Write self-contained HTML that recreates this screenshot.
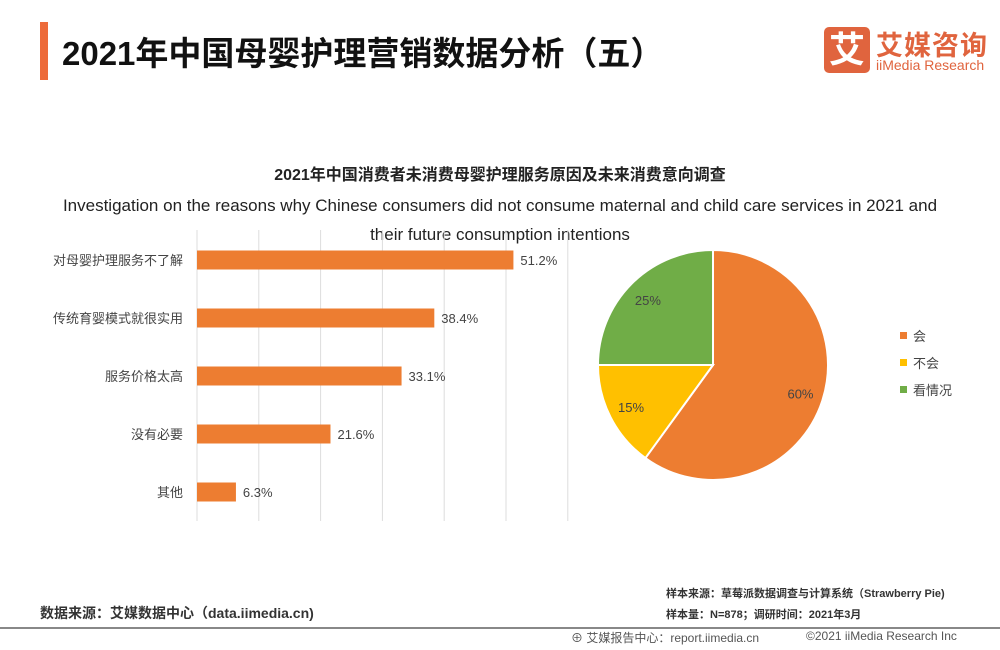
<!DOCTYPE html>
<html><head><meta charset="utf-8">
<style>
body{margin:0;background:#fff;}
#root{position:relative;width:1000px;height:650px;overflow:hidden;font-family:"Liberation Sans","Noto Sans CJK SC",sans-serif;}
.abs{position:absolute;white-space:nowrap;}
</style></head>
<body>
<div id="root">
<div class="abs" style="left:40px;top:22px;width:8px;height:58px;background:#ED6B3A"></div>
<div class="abs" style="left:62px;top:27px;font-size:33px;font-weight:bold;color:#111">2021年中国母婴护理营销数据分析（五）</div>
<div class="abs" style="left:824px;top:27px;width:46px;height:46px;background:#E0643E;border-radius:5px;color:#fff;font-size:36px;font-weight:bold;text-align:center;line-height:46px">艾</div>
<div class="abs" style="left:876px;top:24px;font-size:27px;font-weight:bold;color:#E0643E;letter-spacing:1px">艾媒咨询</div>
<div class="abs" style="left:876px;top:57px;font-size:14px;color:#E0643E">iiMedia Research</div>

<div class="abs" style="left:0;width:1000px;top:161px;text-align:center;font-size:16px;font-weight:bold;color:#222">2021年中国消费者未消费母婴护理服务原因及未来消费意向调查</div>
<div class="abs" style="left:0;width:1000px;top:191px;text-align:center;font-size:17px;color:#222;white-space:normal;line-height:29px">Investigation on the reasons why Chinese consumers did not consume maternal and child care services in 2021 and<br>their future consumption intentions</div>

<svg class="abs" style="left:0;top:0" width="1000" height="650" id="chart"></svg>

<div class="abs" style="left:40px;top:603px;font-size:14px;font-weight:bold;color:#333">数据来源：艾媒数据中心（data.iimedia.cn)</div>
<div class="abs" style="left:666px;top:585px;font-size:11px;font-weight:bold;color:#333">样本来源：草莓派数据调查与计算系统（Strawberry Pie)</div>
<div class="abs" style="left:666px;top:606px;font-size:11px;font-weight:bold;color:#333">样本量：N=878；调研时间：2021年3月</div>
<div class="abs" style="left:0;top:627px;width:1000px;height:2px;background:#888"></div>
<div class="abs" style="left:571px;top:629px;font-size:12px;color:#555">⊕ 艾媒报告中心：report.iimedia.cn</div>
<div class="abs" style="left:806px;top:629px;font-size:12px;color:#555">©2021 iiMedia Research Inc</div>
</div>
<script>
const categories=["对母婴护理服务不了解","传统育婴模式就很实用","服务价格太高","没有必要","其他"];
const values=[51.2,38.4,33.1,21.6,6.3];
const gridTicks=[0,10,20,30,40,50,60];
const pieLabels=["会","不会","看情况"];
const pieValues=[60,15,25];
const pieColors=["#ED7D31","#FFC000","#70AD47"];
const NS="http://www.w3.org/2000/svg";
const svg=document.getElementById('chart');
function mk(t,a){const e=document.createElementNS(NS,t);for(const k in a)e.setAttribute(k,a[k]);svg.appendChild(e);return e;}
const x0=197,pxPer=6.18,yTop=230,yBot=521,band=58,firstC=260,bh=19;
const xs=v=>x0+v*pxPer;
const yc=i=>firstC+i*band;
gridTicks.forEach(t=>{const l=mk('line',{x1:xs(t),x2:xs(t),y1:yTop,y2:yBot,stroke:'#ddd','stroke-width':1});

});
categories.forEach((c,i)=>{
const r=mk('rect',{x:x0,y:yc(i)-bh/2,width:xs(values[i])-x0,height:bh,fill:'#ED7D31'});


const lb=mk('text',{x:183,y:yc(i)+5,'text-anchor':'end','font-size':13,fill:'#444'});lb.textContent=c;


const vl=mk('text',{x:xs(values[i])+7,y:yc(i)+5,'font-size':13,fill:'#444'});vl.textContent=values[i].toFixed(1)+'%';


});
const cx=713,cy=365,R=115;
const tot=pieValues.reduce((a,b)=>a+b,0);
let acc=0;
const pt=(a,r)=>[cx+r*Math.sin(a),cy-r*Math.cos(a)];
pieValues.forEach((v,i)=>{
const a0=acc/tot*2*Math.PI;acc+=v;const a1=acc/tot*2*Math.PI;
const p0=pt(a0,R),p1=pt(a1,R);
const s=mk('path',{d:`M${cx},${cy}L${p0[0]},${p0[1]}A${R},${R} 0 ${a1-a0>Math.PI?1:0} 1 ${p1[0]},${p1[1]}Z`,fill:pieColors[i],stroke:'#fff','stroke-width':2});


const m=pt((a0+a1)/2,R*0.8);
const t=mk('text',{x:m[0],y:m[1]+5,'text-anchor':'middle','font-size':13,fill:'#444'});t.textContent=v+'%';


const ly=336+i*27;
const sq=mk('rect',{x:900,y:ly-4,width:7,height:7,fill:pieColors[i]});


const lt=mk('text',{x:913,y:ly+5,'font-size':13,fill:'#444'});lt.textContent=pieLabels[i];


});
</script>
</body></html>
